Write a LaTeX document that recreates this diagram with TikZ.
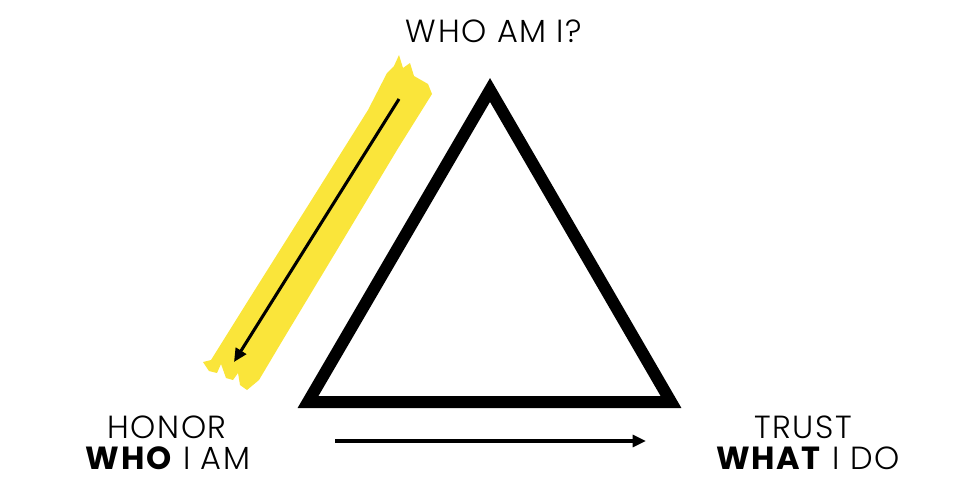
\documentclass[tikz,border=0pt]{standalone}
\usepackage{fontspec}
\setmainfont{Poppins Light}[BoldFont=Poppins Bold,LetterSpace=5]
\usetikzlibrary{arrows.meta}
\definecolor{marker}{RGB}{250,229,58}
\tikzset{
  label text/.style={anchor=center,inner sep=0.75pt,font=\fontsize{24}{28}\selectfont},
  flow arrow/.style={line width=2.3pt,-{Triangle[length=10pt,width=9pt]}}
}

\begin{document}
\begin{tikzpicture}[x=0.75pt,y=0.75pt,yscale=-1,xscale=1]
	\useasboundingbox (0,0) rectangle (980,489);

	%Shape: Highlight stroke
	\fill [marker] (399,55) -- (403,68) -- (410,63) -- (414,76) -- (428,84) -- (432,94) -- (397,150) -- (337,250) -- (281,343) -- (259,380) -- (247,390) -- (240,385) -- (238,373) -- (233,380) -- (226,378) -- (221,364) -- (217,373) -- (209,371) -- (203,362) -- (211,360) -- (248.5,300) -- (311.5,200) -- (368,110) -- (387,73) -- (394,66) -- cycle ;
	%Shape: Triangle
	\coordinate (apex) at (490,90);
	\coordinate (left) at (308,402);
	\coordinate (right) at (671,402);
	\draw [line width=9pt,miter limit=10] (apex) -- (left) -- (right) -- cycle ;

	%Shape: Arrows
	\coordinate (down start) at (399,99);
	\coordinate (down end) at (234,362);
	\draw [flow arrow] (down start) -- (down end) ;
	\coordinate (across start) at (335,441);
	\coordinate (across end) at (646,441);
	\draw [flow arrow] (across start) -- (across end) ;

	% Text Node
	\node (who) [label text] at (494,31) {WHO AM I?};
	% Text Node
	\node (honor) [label text] at (167,427) {HONOR};
	% Text Node
	\node (whoiam) [label text] at (168,458) {\textbf{WHO} I AM};
	% Text Node
	\node (trust) [label text] at (803,427) {TRUST};
	% Text Node
	\node (whatido) [label text] at (808,458) {\textbf{WHAT} I DO};

\end{tikzpicture}
\end{document}
